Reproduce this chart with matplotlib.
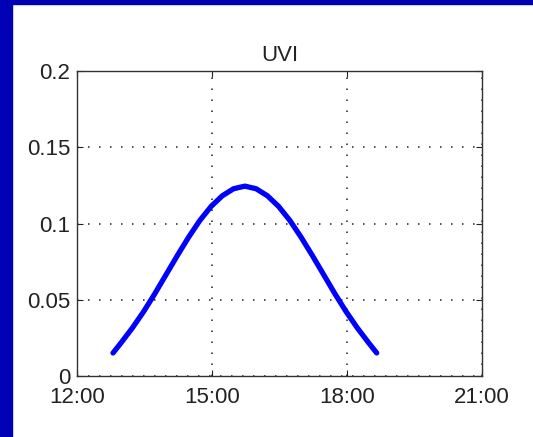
import matplotlib.pyplot as plt
from matplotlib.patches import Rectangle

plt.rcParams['font.family'] = ['Liberation Sans', 'DejaVu Sans']

# hours of day and UVI values
hours = [12.80, 12.98, 13.23, 13.48, 13.73, 13.98, 14.23, 14.48, 14.73, 14.98, 15.23,
         15.48, 15.73, 15.98, 16.23, 16.48, 16.73, 16.98, 17.23, 17.48, 17.73, 17.98,
         18.23, 18.48, 18.66]
uvi = [0.0151, 0.0218, 0.0315, 0.0422, 0.0540, 0.0665, 0.0790, 0.0910, 0.1020, 0.1112,
       0.1182, 0.1228, 0.1245, 0.1228, 0.1182, 0.1112, 0.1020, 0.0910, 0.0790, 0.0665,
       0.0540, 0.0422, 0.0315, 0.0218, 0.0151]

xticks = [12, 15, 18, 21]
xtick_labels = ["12:00", "15:00", "18:00", "21:00"]
yticks = [0, 0.05, 0.1, 0.15, 0.2]
ytick_labels = ["0", "0.05", "0.1", "0.15", "0.2"]

W, H = 533, 437
fig = plt.figure(figsize=(W / 100, H / 100), dpi=100)
fig.patch.set_facecolor("white")

# blue slide border on the left and top
border = "#0000b4"
fig.patches.append(Rectangle((0, 0), 12 / W, 1, transform=fig.transFigure,
                             color=border, zorder=0))
fig.patches.append(Rectangle((0, 1 - 4 / H), 1, 4 / H, transform=fig.transFigure,
                             color=border, zorder=0))

ax = fig.add_axes([77 / W, 61 / H, 405 / W, 305 / H])
ax.plot(hours, uvi, color="#0000ff", linewidth=3.8,
        solid_capstyle="round", solid_joinstyle="round")

ax.set_xlim(12, 21)
ax.set_ylim(0, 0.2)
ax.set_xticks(xticks)
ax.set_xticklabels(xtick_labels)
ax.set_yticks(yticks)
ax.set_yticklabels(ytick_labels)

ax.grid(True, color="#222222", linestyle=(0, (1, 6.2)), linewidth=1.1)
ax.tick_params(direction="in", length=4, width=0.8, top=True, right=True,
               labelsize=16, colors="#222222")
ax.tick_params(axis="x", pad=8)
ax.tick_params(axis="y", pad=5)
for lab in ax.get_yticklabels():
    lab.set_verticalalignment("center_baseline")
for sp in ax.spines.values():
    sp.set_color("#333333")
    sp.set_linewidth(1.0)

ax.set_title("UVI", fontsize=16, pad=7, color="#222222")

fig.savefig("out.png", dpi=100)
